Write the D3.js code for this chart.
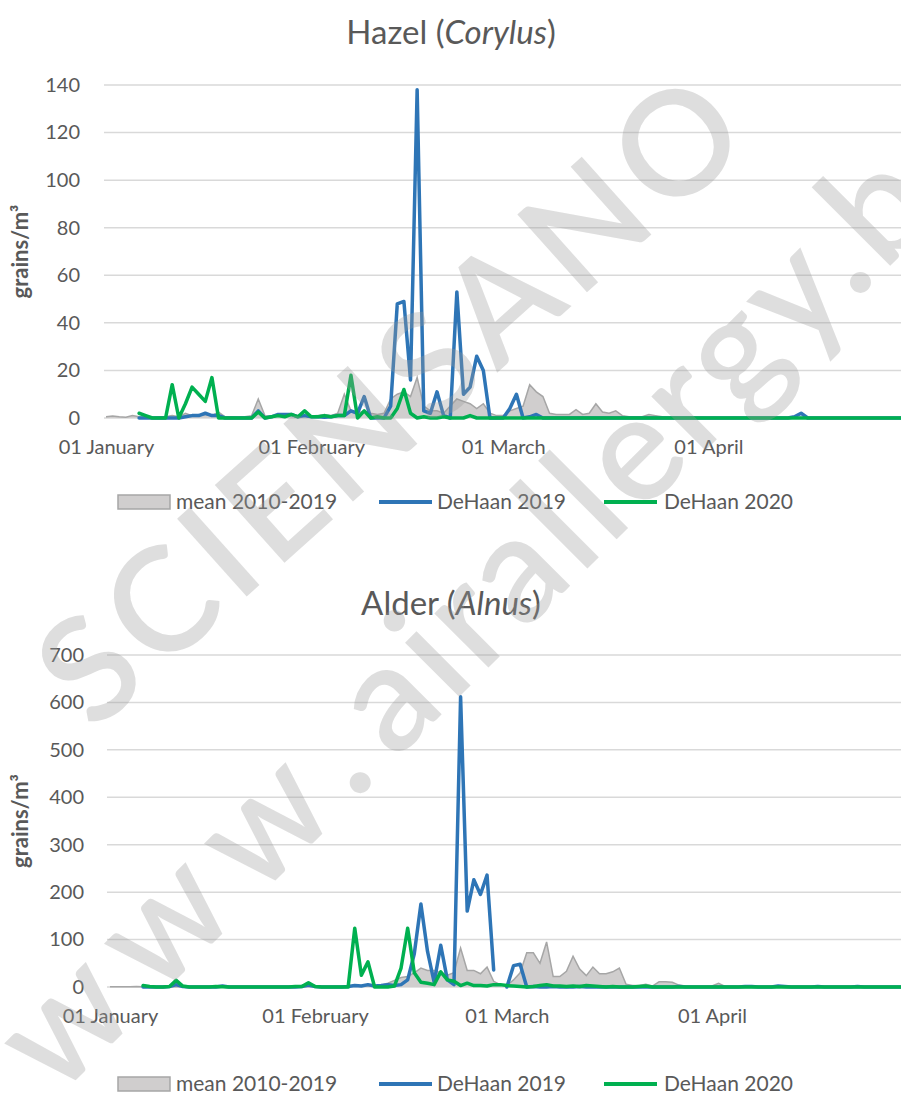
<!DOCTYPE html>
<html>
<head>
<meta charset="utf-8">
<script src="https://cdn.jsdelivr.net/npm/d3@7"></script>
<style>
  body { margin: 0; background: #fff; }
  text { font-family: Lato, "Noto Sans", sans-serif; }
</style>
</head>
<body>
<svg id="chart" width="901" height="1095"></svg>
<script>
// daily values from 1 January, one entry per day (null = no sample)
var startDate = new Date(2020, 0, 1);
var tickDates = [new Date(2020, 0, 1), new Date(2020, 1, 1), new Date(2020, 2, 1), new Date(2020, 3, 1)];
var tickLabels = ["01 January", "01 February", "01 March", "01 April"];
var legendLabels = ["mean 2010-2019", "DeHaan 2019", "DeHaan 2020"];

var hazelTicks = [0, 20, 40, 60, 80, 100, 120, 140];
var alderTicks = [0, 100, 200, 300, 400, 500, 600, 700];

var hazelMean = [
  0.5, 0.8, 0.5, 0.3, 1, 0.5, 0.3, 0.2, 0.5, 0.5,
  1, 0.5, 2, 1, 1, 1.5, 1, 2.5, 0.5, 0.5,
  0.3, 0.5, 1, 8, 1, 0.5, 1, 1, 1.5, 1,
  1, 0.8, 1, 1.5, 1, 2, 10, 3, 2, 3,
  2, 1.5, 2, 8, 10, 11, 9, 17, 5, 3,
  3, 2, 5, 8, 7, 6, 4, 6, 2, 1,
  1, 3, 4, 5, 14, 11, 9, 2, 1.5, 1.5,
  1.5, 3.5, 1.5, 2, 6, 2.5, 2, 3, 1, 0.5,
  0.5, 0.5, 1.5, 1, 0.5, 0.3, 0.3, 0.2, 0.3, 0.2,
  0.2, 0.1, 0.2, 0.1, 0.1, 0.2, 0.1, 0.1, 0.1, 0.1,
  0.1, 0.1, 0.2, 0.1, 0.1, 0.3, 0.1, 0.1, 0.1, 0.1,
  0.1, 0.1, 0.1, 0.1, 0.1, 0.1, 0.1, 0.1, 0.1, 0.1,
  0.1
];
var hazel2019 = [
  null, null, null, null, null, 0, 0, 0, 0, 0,
  0, 0, 0.5, 1, 1, 2, 1, 1, 0, 0,
  0, 0, 0, 3, 0, 0.5, 1.5, 1.5, 1.5, 0.5,
  1, 0.5, 0.5, 0.3, 0.5, 1, 1, 3, 2, 9,
  0, 0, 0, 5, 48, 49, 16, 138, 3, 2,
  11, 1, 0, 53, 10, 13, 26, 20, 0, 0,
  0, 4, 10, 0, 0.5, 1.5, 0, 0, 0, 0,
  0, 0, 0, 0, 0, 0, 0, 0, 0, 0,
  0, 0, 0, 0, 0, 0, 0, 0, 0, 0,
  0, 0, 0, 0, 0, 0, 0, 0, 0, 0,
  0, 0, 0, 0, 0.5, 2, 0, 0, 0, 0,
  0, 0, 0, 0, 0, 0, 0, 0, 0, 0,
  0
];
var hazel2020 = [
  null, null, null, null, null, 2, 1, 0, 0, 0,
  14, 0, 6, 13, 10, 7, 17, 0, 0, 0,
  0, 0, 0, 2.5, 0, 0.5, 1, 0.5, 1.5, 0.5,
  3, 0.5, 0.5, 1, 0.5, 1, 1, 18, 0, 3,
  0, 0.5, 0, 0, 4, 12, 2, 0, 0.5, 0,
  0, 0.5, 0, 0, 0, 1, 0, 0, 0, 0,
  0, 0, 0, 0, 0, 0, 0, 0, 0, 0,
  0, 0, 0, 0, 0, 0, 0, 0, 0, 0,
  0, 0, 0, 0, 0, 0, 0, 0, 0, 0,
  0, 0, 0, 0, 0, 0, 0, 0, 0, 0,
  0, 0, 0, 0, 0, 0, 0, 0, 0, 0,
  0, 0, 0, 0, 0, 0, 0, 0, 0, 0,
  0
];

var alderMean = [
  0.5, 0.5, 0.5, 0.5, 1, 0.5, 0.5, 0.5, 0.5, 0.5,
  1, 0.5, 0.5, 0.5, 0.5, 0.5, 1, 1, 0.5, 0.5,
  0.5, 0.5, 0.5, 0.5, 0.5, 0.5, 0.5, 0.5, 0.5, 0.5,
  1, 0.5, 0.5, 0.5, 1, 1, 1, 2, 2, 2,
  1, 4, 8, 14, 20, 22, 30, 40, 35, 35,
  30, 25, 30, 82, 35, 35, 28, 42, 12, 5,
  3, 15, 30, 72, 72, 50, 95, 22, 22, 33,
  65, 38, 24, 42, 28, 28, 32, 40, 6, 3,
  3, 6, 2, 11, 11, 10, 4, 2, 1, 1,
  1, 2, 8, 1, 1, 0.5, 0.5, 1, 0.5, 0.5,
  1, 0.5, 0.5, 0.5, 1, 0.5, 0.5, 0.5, 0.5, 0.5,
  0.5, 0.5, 0.5, 0.5, 0.5, 0.5, 0.5, 0.5, 0.5, 0.5,
  0.5
];
var alder2019 = [
  null, null, null, null, null, 0, 0, 0, 0, 1,
  5, 1, 0, 0, 0, 0, 0, 2, 0, 0,
  0, 0, 0, 0, 0, 0, 0, 0, 0, 1,
  4, 1, 0, 0, 0, 0, 1, 3, 2, 5,
  2, 3, 5, 3, 5, 15, 70, 175, 75, 10,
  88, 15, 5, 612, 160, 226, 195, 236, 36, null,
  0, 45, 48, 0, 1, 0, 0, 1, 0, 0,
  0, 1, 0, 0, 0, 0, 0, 0, 0, 0,
  0, 0, 0, 0, 0, 0, 1, 0, 0, 0,
  0, 0, 0, 0, 0, 0, 1, 1, 0, 0,
  0, 2, 1, 0, 0, 0, 0, 1, 0, 0,
  0, 0, 0, 1, 0, 0, 0, 0, 0, 0,
  0
];
var alder2020 = [
  null, null, null, null, null, 3, 1, 0, 0, 1,
  14, 2, 0, 0, 0, 0, 1, 0.5, 0, 0,
  0, 0, 0, 0, 0, 0, 0, 0, 1, 1,
  9, 1, 0, 0, 0, 0, 0, 124, 25, 53,
  0, 0, 0, 2, 40, 124, 30, 10, 8, 5,
  32, 15, 12, 3, 8, 3, 3, 2, 5, 5,
  3, 2, 1, 0, 1, 3, 5, 2, 2, 1,
  2, 1, 3, 2, 1, 0, 1, 0, 0, 0,
  1, 2, 0, 0, 0, 0, 0, 0, 0, 0,
  0, 0, 0, 0, 0, 0, 0, 0, 0, 0,
  0, 0, 0, 0, 0, 0, 0, 0, 0, 0,
  0, 0, 0, 0, 0, 0, 0, 0, 0, 0,
  0
];

var textColor = "#595959";
var gridColor = "#d9d9d9";
var colMeanFill = "#d0cece", colMeanLine = "#a6a6a6";
var col2019 = "#2e75b6", col2020 = "#00b050";

var svg = d3.select("#chart");

function dayOf(i) { return d3.timeDay.offset(startDate, i); }

function drawPanel(p) {
  var g = svg.append("g");

  var x = d3.scaleTime()
    .domain([startDate, dayOf(120)])
    .range([p.x0, p.x0 + 120 * p.dayW]);
  var y = d3.scaleLinear()
    .domain([0, p.ticks[p.ticks.length - 1]])
    .range([p.yBottom, p.yTop]);

  // gridlines
  g.append("g")
    .selectAll("line")
    .data(p.ticks)
    .join("line")
    .attr("x1", p.gridLeft).attr("x2", 901)
    .attr("y1", d => y(d)).attr("y2", d => y(d))
    .attr("stroke", gridColor).attr("stroke-width", 1.5);

  // y axis labels
  var yAxis = d3.axisLeft(y).tickValues(p.ticks).tickSize(0).tickPadding(0);
  var ya = g.append("g").attr("transform", "translate(" + p.yLabelX + ",0)").call(yAxis);
  ya.select(".domain").remove();
  ya.selectAll("text").attr("fill", textColor).style("font-size", "20px")
    .style("font-family", "Lato, sans-serif");

  // x axis labels
  var xAxis = d3.axisBottom(x).tickValues(tickDates)
    .tickFormat((d, i) => tickLabels[i]).tickSize(0).tickPadding(0);
  var xa = g.append("g").attr("transform", "translate(0," + p.xLabelY + ")").call(xAxis);
  xa.select(".domain").remove();
  xa.selectAll("text").attr("fill", textColor).style("font-size", "20px")
    .style("font-family", "Lato, sans-serif");

  // mean area
  var meanPts = p.mean.map((v, i) => ({ d: dayOf(i), v: v }));
  var area = d3.area().x(d => x(d.d)).y0(y(0)).y1(d => y(d.v));
  g.append("path").datum(meanPts).attr("d", area).attr("fill", colMeanFill);
  var meanLine = d3.line().x(d => x(d.d)).y(d => y(d.v));
  g.append("path").datum(meanPts).attr("d", meanLine)
    .attr("fill", "none").attr("stroke", colMeanLine).attr("stroke-width", 1.5);

  // year lines
  var line = d3.line().defined(d => d.v != null).x(d => x(d.d)).y(d => y(d.v));
  [[p.s2019, col2019], [p.s2020, col2020]].forEach(function (s) {
    var pts = s[0].map((v, i) => ({ d: dayOf(i), v: v }));
    g.append("path").datum(pts).attr("d", line)
      .attr("fill", "none").attr("stroke", s[1]).attr("stroke-width", 3.5)
      .attr("stroke-linejoin", "round").attr("stroke-linecap", "round");
  });

  // title
  var t = g.append("text").attr("x", 451).attr("y", p.titleY)
    .attr("text-anchor", "middle").attr("fill", textColor).style("font-size", "33px");
  t.append("tspan").text(p.title[0] + " (");
  t.append("tspan").style("font-style", "italic").text(p.title[1]);
  t.append("tspan").text(")");

  // y axis title
  g.append("text")
    .attr("transform", "translate(" + p.yTitleX + "," + ((p.yTop + p.yBottom) / 2) + ") rotate(-90)")
    .attr("text-anchor", "middle").attr("fill", textColor)
    .style("font-size", "22px").style("font-weight", "bold")
    .text("grains/m³");

  // legend
  var ly = p.legendY;
  var lg = g.append("g");
  lg.append("rect").attr("x", 118).attr("y", ly - 7).attr("width", 52).attr("height", 14)
    .attr("fill", colMeanFill).attr("stroke", colMeanLine).attr("stroke-width", 1.5);
  lg.append("line").attr("x1", 379).attr("x2", 432).attr("y1", ly).attr("y2", ly)
    .attr("stroke", col2019).attr("stroke-width", 4);
  lg.append("line").attr("x1", 604).attr("x2", 657).attr("y1", ly).attr("y2", ly)
    .attr("stroke", col2020).attr("stroke-width", 4);
  lg.selectAll("text.leg")
    .data(legendLabels)
    .join("text")
    .attr("class", "leg")
    .attr("x", (d, i) => [176, 437, 664][i])
    .attr("y", ly).attr("dy", "0.35em")
    .attr("fill", textColor).style("font-size", "21px")
    .text(d => d);
}

drawPanel({
  title: ["Hazel", "Corylus"], titleY: 44,
  mean: hazelMean, s2019: hazel2019, s2020: hazel2020,
  ticks: hazelTicks, yTop: 85, yBottom: 418,
  x0: 106, dayW: 6.62, gridLeft: 104,
  yLabelX: 80, xLabelY: 440, yTitleX: 28, legendY: 502
});

drawPanel({
  title: ["Alder", "Alnus"], titleY: 615,
  mean: alderMean, s2019: alder2019, s2020: alder2020,
  ticks: alderTicks, yTop: 655, yBottom: 987,
  x0: 110, dayW: 6.615, gridLeft: 107,
  yLabelX: 84, xLabelY: 1009, yTitleX: 28, legendY: 1084
});

// watermark
var wm = svg.append("g").attr("fill", "#9a9a9a").attr("fill-opacity", 0.33)
  .style("font-family", "'Open Sans', sans-serif").style("font-weight", 600);
wm.append("text")
  .attr("transform", "translate(424,438) rotate(-41.8)")
  .attr("text-anchor", "middle")
  .attr("textLength", 886).attr("lengthAdjust", "spacing")
  .style("font-size", "145px")
  .text("SCIENSANO");
var site = wm.append("text")
  .attr("transform", "translate(57,1099) rotate(-45)")
  .style("font-size", "150px");
site.append("tspan").style("letter-spacing", "22px").text("www.");
site.append("tspan").style("letter-spacing", "5px").text("airallergy.be");
</script>
</body>
</html>
